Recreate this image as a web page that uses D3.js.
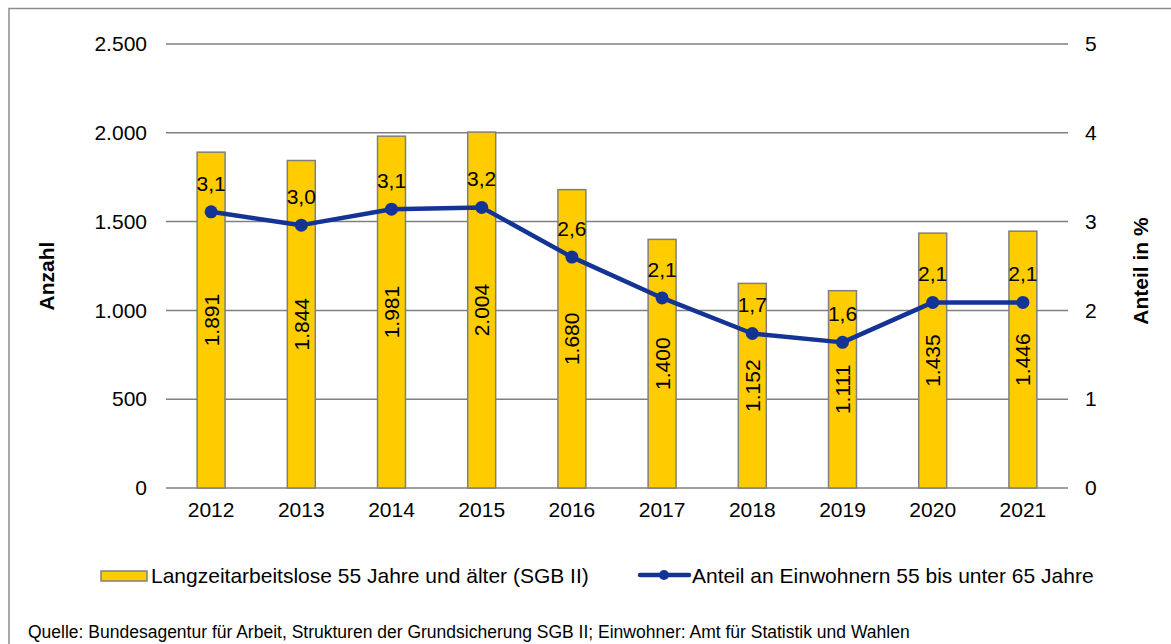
<!DOCTYPE html>
<html>
<head>
<meta charset="utf-8">
<script src="https://cdn.jsdelivr.net/npm/d3@7"></script>
<style>
    body { margin: 0; background: #fff; }
    svg text { font-family: Arial, "Liberation Sans", sans-serif; fill: #000; }
</style>
</head>
<body>
<div class="chart"></div>
<script>
// data
var years = ["2012", "2013", "2014", "2015", "2016", "2017", "2018", "2019", "2020", "2021"];
var anzahl = [1891, 1844, 1981, 2004, 1680, 1400, 1152, 1111, 1435, 1446];
var anteil = [3.11, 2.96, 3.14, 3.16, 2.60, 2.14, 1.74, 1.64, 2.09, 2.09];
var leftTicks = [0, 500, 1000, 1500, 2000, 2500];
var rightTicks = [0, 1, 2, 3, 4, 5];

var width = 1171, height = 644;
var margin = {top: 44, left: 166, right: 103, bottom: 156};
var plotW = width - margin.left - margin.right,
    plotH = height - margin.top - margin.bottom;
var fs = "21px";

var svg = d3.select("div.chart").append("svg")
    .attr("width", width)
    .attr("height", height);

// outer frame
svg.append("rect")
    .attr("x", 9).attr("y", 8.5)
    .attr("width", 1175).attr("height", 660)
    .attr("fill", "none")
    .attr("stroke", "#8c8c8c")
    .attr("stroke-width", 1.5);

var g = svg.append("g")
    .attr("transform", "translate(" + margin.left + "," + margin.top + ")");

var x = d3.scaleBand().domain(years).range([0, plotW]).paddingInner(0.69).paddingOuter(0.345);
var y = d3.scaleLinear().domain([0, 2500]).range([plotH, 0]);
var y2 = d3.scaleLinear().domain([0, 5]).range([plotH, 0]);

// gridlines
g.selectAll(".grid")
    .data(leftTicks)
    .enter().append("line")
    .attr("x1", 0).attr("x2", plotW)
    .attr("y1", function (d) { return y(d); })
    .attr("y2", function (d) { return y(d); })
    .attr("stroke", "#808080")
    .attr("stroke-width", 1.5);

// left axis
var axL = g.append("g")
    .call(d3.axisLeft(y).tickValues(leftTicks).tickSize(0).tickPadding(19)
        .tickFormat(function (d) { return d3.format(",")(d).replace(/,/g, "."); }));
axL.select(".domain").remove();
axL.selectAll("text").style("font-size", fs).attr("font-family", null);

// right axis
var axR = g.append("g")
    .attr("transform", "translate(" + plotW + ",0)")
    .call(d3.axisRight(y2).tickValues(rightTicks).tickSize(0).tickPadding(17)
        .tickFormat(d3.format("d")));
axR.select(".domain").remove();
axR.selectAll("text").style("font-size", fs).attr("font-family", null);

// x axis labels
var axB = g.append("g")
    .attr("transform", "translate(0," + plotH + ")")
    .call(d3.axisBottom(x).tickSize(0).tickPadding(14));
axB.select(".domain").remove();
axB.selectAll("text").style("font-size", fs).attr("font-family", null);

// bars
g.selectAll(".bar")
    .data(anzahl)
    .enter().append("rect")
    .attr("class", "bar")
    .attr("x", function (d, i) { return x(years[i]); })
    .attr("width", x.bandwidth())
    .attr("y", function (d) { return y(d); })
    .attr("height", function (d) { return plotH - y(d); })
    .attr("fill", "#ffcc00")
    .attr("stroke", "#7f7f7f")
    .attr("stroke-width", 1.5);

// bar labels (rotated, centered)
g.selectAll(".barlabel")
    .data(anzahl)
    .enter().append("text")
    .attr("transform", function (d, i) {
        var cx = x(years[i]) + x.bandwidth() / 2,
            cy = (y(d) + plotH) / 2;
        return "translate(" + (cx + 7.5) + "," + cy + ") rotate(-90)";
    })
    .attr("text-anchor", "middle")
    .style("font-size", fs)
    .text(function (d) { return d3.format(",")(d).replace(/,/g, "."); });

// line
var line = d3.line()
    .x(function (d, i) { return x(years[i]) + x.bandwidth() / 2; })
    .y(function (d) { return y2(d); });

g.append("path")
    .datum(anteil)
    .attr("d", line)
    .attr("fill", "none")
    .attr("stroke", "#133495")
    .attr("stroke-width", 4.5)
    .attr("stroke-linejoin", "round");

g.selectAll(".dot")
    .data(anteil)
    .enter().append("circle")
    .attr("cx", function (d, i) { return x(years[i]) + x.bandwidth() / 2; })
    .attr("cy", function (d) { return y2(d); })
    .attr("r", 6.5)
    .attr("fill", "#133495");

g.selectAll(".linelabel")
    .data(anteil)
    .enter().append("text")
    .attr("x", function (d, i) { return x(years[i]) + x.bandwidth() / 2; })
    .attr("y", function (d) { return y2(d) - 21; })
    .attr("text-anchor", "middle")
    .style("font-size", fs)
    .text(function (d) { return d.toFixed(1).replace(".", ","); });

// axis titles
svg.append("text")
    .attr("transform", "translate(54,276) rotate(-90)")
    .attr("text-anchor", "middle")
    .style("font-size", fs)
    .style("font-weight", "bold")
    .text("Anzahl");

svg.append("text")
    .attr("transform", "translate(1148,271) rotate(-90)")
    .attr("text-anchor", "middle")
    .style("font-size", fs)
    .style("font-weight", "bold")
    .text("Anteil in %");

// legend
var leg = svg.append("g");
leg.append("rect")
    .attr("x", 101).attr("y", 571)
    .attr("width", 46).attr("height", 10)
    .attr("fill", "#ffcc00")
    .attr("stroke", "#7f7f7f")
    .attr("stroke-width", 1.5);
leg.append("text")
    .attr("x", 151).attr("y", 583)
    .style("font-size", fs)
    .text("Langzeitarbeitslose 55 Jahre und älter (SGB II)");
leg.append("line")
    .attr("x1", 640).attr("x2", 689)
    .attr("y1", 575).attr("y2", 575)
    .attr("stroke", "#133495")
    .attr("stroke-width", 4.5)
    .attr("stroke-linecap", "round");
leg.append("circle")
    .attr("cx", 664).attr("cy", 575).attr("r", 5)
    .attr("fill", "#133495");
leg.append("text")
    .attr("x", 692).attr("y", 583)
    .style("font-size", fs)
    .text("Anteil an Einwohnern 55 bis unter 65 Jahre");

// source
svg.append("text")
    .attr("x", 28).attr("y", 638)
    .style("font-size", "17.5px")
    .text("Quelle: Bundesagentur für Arbeit, Strukturen der Grundsicherung SGB II; Einwohner:  Amt für Statistik und Wahlen");
</script>
</body>
</html>
